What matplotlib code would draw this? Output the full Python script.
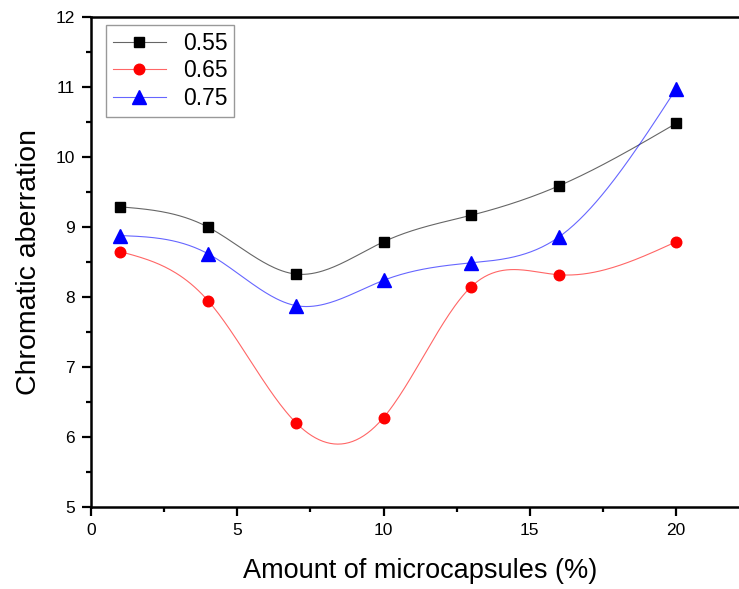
import numpy as np
import matplotlib
matplotlib.use('Agg')
import matplotlib.pyplot as plt
from matplotlib.colors import to_rgba

plt.rcParams['font.family'] = ['Liberation Sans', 'DejaVu Sans']

# data
amount = [1, 4, 7, 10, 13, 16, 20]
ca_055 = [9.29, 9.00, 8.33, 8.79, 9.17, 9.59, 10.48]
ca_065 = [8.65, 7.95, 6.21, 6.28, 8.15, 8.32, 8.79]
ca_075 = [8.88, 8.62, 7.88, 8.24, 8.49, 8.86, 10.97]
labels = ['0.55', '0.65', '0.75']


def natural_spline(x, y, n=300):
    # natural cubic spline through the points (like Origin "Spline" connect)
    x = np.asarray(x, float)
    y = np.asarray(y, float)
    k = len(x)
    h = np.diff(x)
    A = np.zeros((k, k))
    b = np.zeros(k)
    A[0, 0] = A[-1, -1] = 1
    for i in range(1, k - 1):
        A[i, i - 1] = h[i - 1]
        A[i, i] = 2 * (h[i - 1] + h[i])
        A[i, i + 1] = h[i]
        b[i] = 6 * ((y[i + 1] - y[i]) / h[i] - (y[i] - y[i - 1]) / h[i - 1])
    M = np.linalg.solve(A, b)
    xs = np.linspace(x[0], x[-1], n)
    idx = np.clip(np.searchsorted(x, xs) - 1, 0, k - 2)
    x0, x1 = x[idx], x[idx + 1]
    hh = x1 - x0
    t0 = x1 - xs
    t1 = xs - x0
    ys = (M[idx] * t0**3 + M[idx + 1] * t1**3) / (6 * hh) \
        + (y[idx] / hh - M[idx] * hh / 6) * t0 \
        + (y[idx + 1] / hh - M[idx + 1] * hh / 6) * t1
    return xs, ys


W, H = 739, 589
fig = plt.figure(figsize=(W / 100, H / 100), dpi=100)
# axes runs past the right edge of the picture, like the cropped original
x_left, x_unit = 91, 29.25
y_top, y_bot = 17, 507.3
xmax = 22.5
ax = fig.add_axes([x_left / W, (H - y_bot) / H, xmax * x_unit / W, (y_bot - y_top) / H])

series = [(ca_055, 'black', 's', 7.2), (ca_065, 'red', 'o', 7.6), (ca_075, 'blue', '^', 9.5)]
for (vals, col, mk, ms), lab in zip(series, labels):
    xs, ys = natural_spline(amount, vals)
    line_col = to_rgba(col, 0.6)
    ax.plot(xs, ys, color=line_col, lw=0.8, zorder=2)
    ax.plot(amount, vals, ls='none', marker=mk, ms=ms, color=col, zorder=3)
    # legend proxy
    ax.plot([], [], color=line_col, lw=0.8, marker=mk, ms=ms,
            markerfacecolor=col, markeredgecolor=col, label=lab)

ax.set_xlim(0, xmax)
ax.set_ylim(5, 12)
ax.set_xticks([0, 5, 10, 15, 20])
ax.set_xticks([2.5, 7.5, 12.5, 17.5, 22.5], minor=True)
ax.set_yticks(range(5, 13))
ax.set_yticks(np.arange(5.5, 12, 1), minor=True)

for s in ['left', 'bottom', 'top']:
    ax.spines[s].set_linewidth(1.8)
ax.spines['right'].set_visible(False)
ax.tick_params(which='major', direction='out', length=6.5, width=1.6, labelsize=12.5, pad=5)
ax.tick_params(which='minor', direction='out', length=3.8, width=1.6)
ax.tick_params(top=False, right=False)

ax.set_xlabel('Amount of microcapsules (%)', fontsize=19.5, labelpad=14)
ax.set_ylabel('Chromatic aberration', fontsize=20.5, labelpad=10)

aw = xmax * x_unit
ah = y_bot - y_top
leg = ax.legend(loc='upper left', bbox_to_anchor=(15 / aw, 1 - 8 / ah),
                borderaxespad=0, fontsize=16.5, handlelength=2.3,
                handletextpad=0.75, labelspacing=0.2, borderpad=0.3,
                fancybox=False, framealpha=1, edgecolor='#999999')
leg.get_frame().set_linewidth(1.0)

fig.savefig('out.png', dpi=100)
